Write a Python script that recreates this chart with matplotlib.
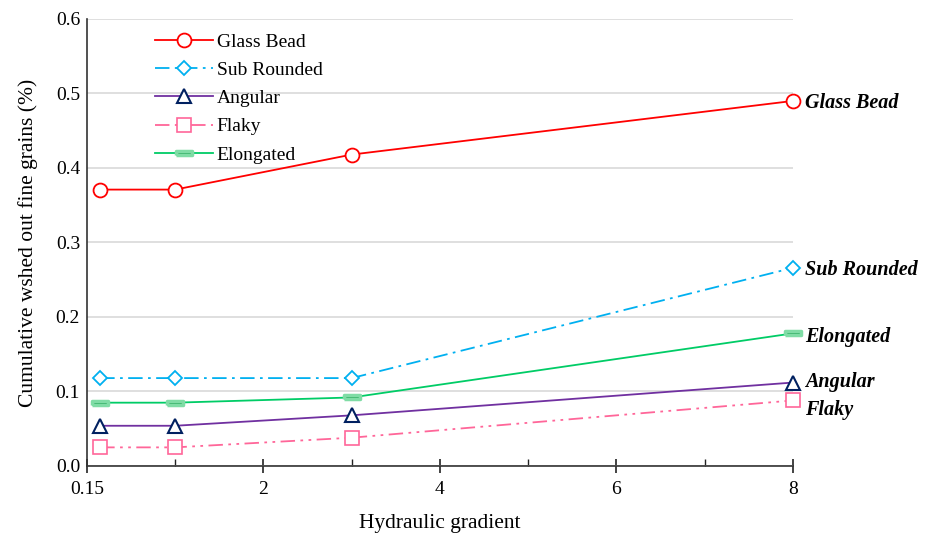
import numpy as np
import matplotlib
matplotlib.use("Agg")
import matplotlib.pyplot as plt
from matplotlib.ticker import FixedLocator, FixedFormatter

plt.rcParams['font.family'] = ['Liberation Serif', 'DejaVu Serif']

# Posiciones en el eje x (gradiente hidráulico)
gradient = [0.15, 1.0, 3.0, 8.0]
xticks = [0, 2, 4, 6, 8]
xtick_labels = ["0.15", "2", "4", "6", "8"]
yticks = [0.0, 0.1, 0.2, 0.3, 0.4, 0.5, 0.6]

# Finos lavados acumulados (%) por forma de grano
glass_bead = [0.371, 0.371, 0.418, 0.490]
sub_rounded = [0.118, 0.118, 0.118, 0.266]
angular = [0.054, 0.054, 0.068, 0.112]
flaky = [0.025, 0.025, 0.038, 0.088]
elongated = [0.085, 0.085, 0.092, 0.178]

# Marcador "barra" para Elongated
bar_marker = [(-1, -0.28), (1, -0.28), (1, 0.28), (-1, 0.28), (-1, -0.28)]

series = [
    ("Glass Bead", glass_bead,
     dict(color="#ff0000", ls="-", marker="o", ms=10, mfc="white", mec="#ff0000", mew=1.3),
     -1.5),
    ("Sub Rounded", sub_rounded,
     dict(color="#00b0f0", ls=(0, (8, 3, 1.5, 3)), marker="D", ms=7, mfc="white", mec="#00b0f0", mew=1.3),
     -1.5),
    ("Angular", angular,
     dict(color="#7030a0", ls="-", marker="^", ms=9.5, mfc="white", mec="#002060", mew=1.5),
     0.5),
    ("Flaky", flaky,
     dict(color="#ff6699", ls=(0, (8, 3, 1.5, 3, 1.5, 3)), marker="s", ms=9.5, mfc="white", mec="#ff6699", mew=1.2),
     -7),
    ("Elongated", elongated,
     dict(color="#00cc66", ls="-", marker=bar_marker, ms=11, mfc="#1a9e50", mec="#7fdca5", mew=2.5),
     -2.5),
]

fig = plt.figure(figsize=(9.32, 5.36), dpi=100)
ax = fig.add_axes([0.0933, 0.1306, 0.7575, 0.834])

for name, vals, style, dy in series:
    ax.plot(gradient, vals, lw=1.3, label=name, clip_on=False, zorder=3, **style)
    # Etiqueta al final de cada curva
    ax.annotate(name, (gradient[-1], vals[-1]),
                xytext=(8.5, dy), textcoords="offset points",
                ha="left", va="center", fontsize=14.5, fontweight="bold",
                fontstyle="italic", annotation_clip=False)

# Ejes
ax.set_xlim(0, 8)
ax.set_ylim(0, 0.6)
ax.xaxis.set_major_locator(FixedLocator(xticks))
ax.xaxis.set_major_formatter(FixedFormatter(xtick_labels))
ax.xaxis.set_minor_locator(FixedLocator([1, 3, 5, 7]))
ax.set_yticks(yticks)
ax.set_yticklabels([f"{v:.1f}" for v in yticks])
ax.tick_params(axis="x", which="major", direction="inout", length=10, width=1.2,
               labelsize=14, pad=6, colors="#222222", labelcolor="black")
ax.tick_params(axis="x", which="minor", direction="in", length=5, width=1.0, colors="#222222")
ax.tick_params(axis="y", length=0, labelsize=14, pad=5)

for side in ("top", "right"):
    ax.spines[side].set_visible(False)
for side in ("left", "bottom"):
    ax.spines[side].set_color("#333333")
    ax.spines[side].set_linewidth(1.2)

ax.yaxis.grid(True, color="#d9d9d9", lw=1.2)
ax.set_axisbelow(True)

ax.set_xlabel("Hydraulic gradient", fontsize=15.5, labelpad=11)
ax.set_ylabel("Cumulative wshed out fine grains (%)", fontsize=15.5, labelpad=13)

ax.legend(loc="upper left", bbox_to_anchor=(0.072, 1.008), frameon=False,
          fontsize=14, handlelength=2.95, labelspacing=0.55, handletextpad=0.2)

fig.savefig("out.png", dpi=100)
plt.close(fig)
